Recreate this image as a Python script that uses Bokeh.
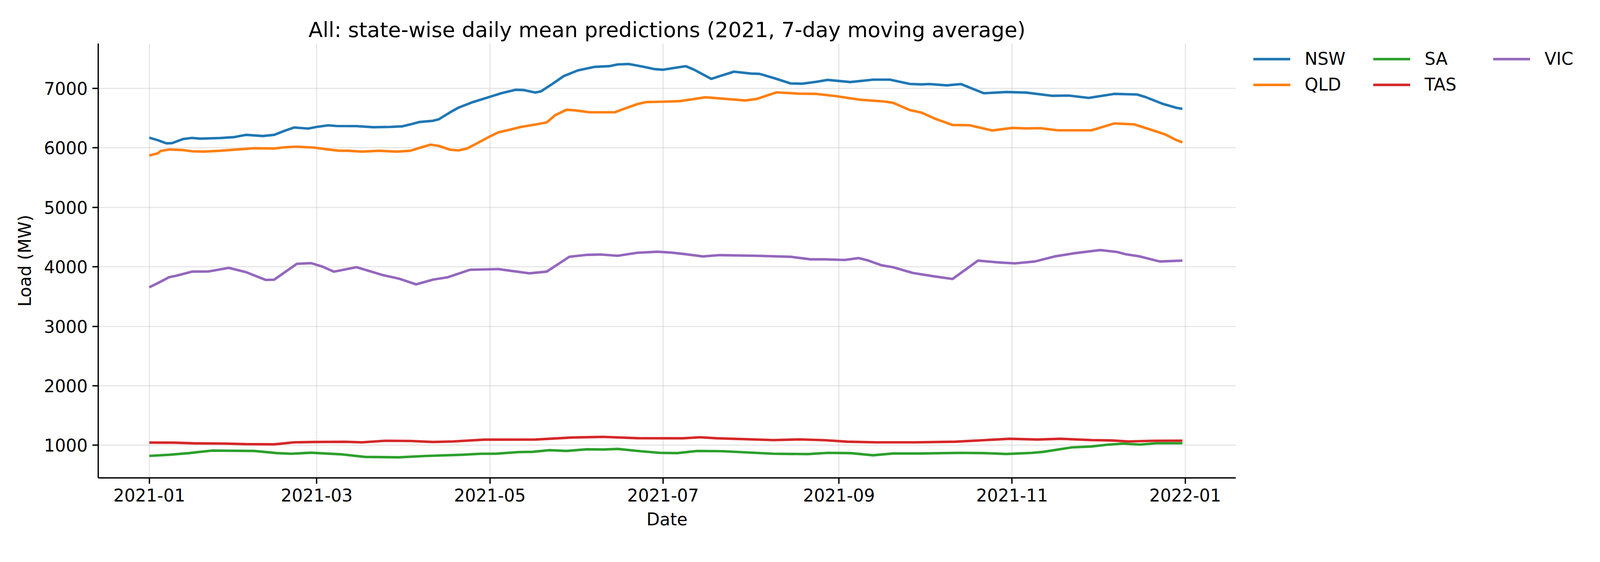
import pandas as pd
from bokeh.plotting import figure
from bokeh.models import Range1d, FixedTicker, DatetimeTickFormatter, Legend, LegendItem
from bokeh.embed import file_html
from bokeh.resources import INLINE

# ---------------- data (day offset from 2021-01-01, load in MW) ----------------
nsw_day = [0, 3, 6, 8, 12, 15, 18, 25, 30, 34, 40, 44, 48, 51, 56, 59, 63, 66, 73, 79, 85, 89, 92, 95,
           100, 102, 106, 109, 114, 120, 124, 129, 132, 136, 138, 142, 146, 151, 157, 162, 165, 169,
           172, 175, 178, 181, 186, 189, 192, 198, 201, 206, 212, 215, 220, 226, 230, 235, 239, 247,
           255, 261, 268, 272, 275, 281, 286, 289, 294, 302, 309, 318, 324, 331, 340, 348, 351, 357, 362, 364]
nsw_val = [6172, 6129, 6076, 6080, 6150, 6168, 6155, 6166, 6182, 6219, 6200, 6219, 6293, 6343, 6325, 6353,
           6379, 6368, 6366, 6347, 6353, 6362, 6395, 6434, 6456, 6481, 6599, 6678, 6770, 6859, 6919, 6977,
           6972, 6930, 6951, 7075, 7207, 7303, 7363, 7374, 7403, 7410, 7384, 7356, 7325, 7314, 7352, 7374,
           7314, 7160, 7207, 7282, 7250, 7245, 7175, 7083, 7079, 7111, 7143, 7107, 7147, 7147, 7075, 7068,
           7073, 7051, 7073, 7015, 6919, 6940, 6930, 6876, 6880, 6840, 6908, 6898, 6855, 6742, 6673, 6656]

qld_day = [0, 3, 4, 7, 12, 15, 19, 25, 31, 37, 44, 48, 52, 58, 63, 67, 70, 75, 81, 87, 92, 96, 99, 102,
           106, 109, 112, 115, 120, 123, 127, 131, 136, 140, 143, 147, 150, 155, 164, 167, 172, 175, 182,
           187, 196, 210, 214, 221, 229, 235, 242, 250, 259, 262, 268, 272, 277, 283, 289, 297, 304, 309,
           314, 320, 332, 340, 347, 354, 358, 362, 364]
qld_val = [5873, 5909, 5948, 5973, 5963, 5943, 5937, 5952, 5973, 5995, 5990, 6012, 6020, 6005, 5973, 5952,
           5952, 5937, 5952, 5937, 5952, 6012, 6054, 6033, 5969, 5958, 5990, 6065, 6193, 6261, 6306, 6353,
           6392, 6428, 6550, 6641, 6631, 6599, 6599, 6652, 6737, 6770, 6778, 6787, 6851, 6797, 6823, 6934,
           6912, 6908, 6870, 6812, 6780, 6759, 6635, 6595, 6488, 6385, 6381, 6293, 6336, 6328, 6332, 6296,
           6296, 6411, 6396, 6289, 6225, 6129, 6093]

sa_day = [0, 7, 14, 22, 37, 45, 50, 57, 68, 76, 88, 97, 110, 117, 122, 130, 135, 141, 147, 154, 160, 165,
          173, 180, 186, 193, 202, 220, 232, 239, 247, 255, 262, 271, 286, 294, 302, 311, 315, 325, 332,
          337, 343, 349, 355, 364]
sa_val = [821, 840, 868, 910, 904, 868, 857, 874, 846, 804, 797, 819, 840, 857, 857, 885, 889, 917, 904,
          932, 928, 938, 900, 872, 868, 904, 900, 857, 851, 872, 868, 832, 861, 861, 872, 868, 853, 872,
          889, 964, 979, 1006, 1028, 1011, 1034, 1034]

tas_day = [0, 9, 16, 27, 34, 44, 51, 58, 69, 75, 83, 92, 100, 107, 118, 136, 149, 160, 172, 184, 188,
           194, 200, 220, 229, 238, 246, 256, 270, 284, 294, 303, 313, 321, 332, 339, 345, 354, 364]
tas_val = [1045, 1043, 1032, 1028, 1019, 1015, 1049, 1055, 1058, 1049, 1075, 1072, 1055, 1064, 1094, 1096,
           1130, 1141, 1119, 1117, 1117, 1134, 1117, 1087, 1098, 1085, 1060, 1049, 1049, 1060, 1085, 1109,
           1096, 1109, 1087, 1081, 1064, 1075, 1077]

vic_day = [0, 3, 7, 9, 15, 21, 28, 34, 41, 44, 48, 52, 57, 61, 65, 73, 82, 88, 94, 100, 105, 113, 123,
           128, 134, 140, 148, 154, 159, 165, 172, 179, 184, 188, 195, 201, 214, 226, 233, 238, 245, 250,
           253, 258, 262, 269, 276, 283, 292, 299, 305, 312, 319, 326, 335, 341, 344, 349, 356, 364]
vic_val = [3656, 3726, 3827, 3844, 3919, 3923, 3983, 3912, 3780, 3784, 3919, 4051, 4062, 4004, 3919, 3994,
           3865, 3801, 3705, 3786, 3823, 3951, 3962, 3929, 3891, 3919, 4169, 4201, 4207, 4186, 4237, 4254,
           4239, 4218, 4175, 4197, 4186, 4169, 4126, 4126, 4115, 4147, 4111, 4026, 3994, 3897, 3844, 3795,
           4105, 4075, 4058, 4090, 4175, 4229, 4282, 4250, 4212, 4175, 4090, 4105]

states = ["NSW", "QLD", "SA", "TAS", "VIC"]
colors = ["#1f77b4", "#ff7f0e", "#2ca02c", "#d62728", "#9467bd"]
series = {"NSW": (nsw_day, nsw_val), "QLD": (qld_day, qld_val), "SA": (sa_day, sa_val),
          "TAS": (tas_day, tas_val), "VIC": (vic_day, vic_val)}

tick_dates = ["2021-01-01", "2021-03-01", "2021-05-01", "2021-07-01", "2021-09-01", "2021-11-01", "2022-01-01"]
y_ticks = [1000, 2000, 3000, 4000, 5000, 6000, 7000]

start = pd.Timestamp("2021-01-01")
FONT = "DejaVu Sans"
FS = "44px"

p = figure(frame_width=2912, frame_height=1113,
           min_border_left=251, min_border_right=900, min_border_top=111, min_border_bottom=160,
           x_axis_type="datetime", output_backend="svg", toolbar_location=None,
           x_range=Range1d(start - pd.Timedelta(days=18.0), start + pd.Timedelta(days=382.8)),
           y_range=Range1d(451, 7755))

p.title.text = "All: state-wise daily mean predictions (2021, 7-day moving average)"
p.title.align = "center"
p.title.text_font = FONT
p.title.text_font_size = "53.5px"
p.title.text_font_style = "normal"
p.title.text_color = "#000000"
p.title.standoff = 8

renderers = []
for s, c in zip(states, colors):
    d, v = series[s]
    xs = [start + pd.Timedelta(days=k) for k in d]
    r = p.line(xs, v, line_color=c, line_width=6.4)
    renderers.append(r)

tick_ms = [pd.Timestamp(t).value / 1e6 for t in tick_dates]
p.xaxis.ticker = FixedTicker(ticks=tick_ms)
p.xgrid.ticker = FixedTicker(ticks=tick_ms)
fmt = "%Y-%m"
p.xaxis.formatter = DatetimeTickFormatter(years=fmt, months=fmt, days=fmt, hours=fmt, minutes=fmt,
                                          seconds=fmt, milliseconds=fmt, microseconds=fmt)
p.yaxis.ticker = FixedTicker(ticks=y_ticks)
p.ygrid.ticker = FixedTicker(ticks=y_ticks)

p.xaxis.axis_label = "Date"
p.yaxis.axis_label = "Load (MW)"
for ax in (p.xaxis, p.yaxis):
    ax.axis_label_text_font = FONT
    ax.axis_label_text_font_size = FS
    ax.axis_label_text_font_style = "normal"
    ax.axis_label_text_color = "#000000"
    ax.major_label_text_font = FONT
    ax.major_label_text_font_size = FS
    ax.major_label_text_color = "#000000"
    ax.axis_line_width = 3.4
    ax.axis_line_color = "#000000"
    ax.major_tick_line_width = 3.4
    ax.major_tick_line_color = "#000000"
    ax.major_tick_out = 15
    ax.major_tick_in = 0
    ax.minor_tick_line_color = None
    ax.major_label_standoff = 12
p.xaxis.axis_label_standoff = 17
p.yaxis.axis_label_standoff = 21

for g in (p.xgrid, p.ygrid):
    g.grid_line_color = "#b0b0b0"
    g.grid_line_alpha = 0.3
    g.grid_line_width = 3

p.outline_line_color = None
p.background_fill_color = "white"
p.border_fill_color = "white"

# legend in the right-hand panel; location = bottom-left corner, px from the panel's bottom-left
legend = Legend(items=[LegendItem(label=s, renderers=[r]) for s, r in zip(states, renderers)],
                location=(45, 982), orientation="vertical", nrows=2,
                spacing=15, padding=0, margin=0,
                border_line_color=None, background_fill_alpha=0,
                label_text_font=FONT, label_text_font_size=FS, label_text_color="#000000",
                glyph_width=95, glyph_height=50, label_standoff=37, label_width=160)
p.add_layout(legend, "right")

open("out.html", "w").write(file_html(p, INLINE))
